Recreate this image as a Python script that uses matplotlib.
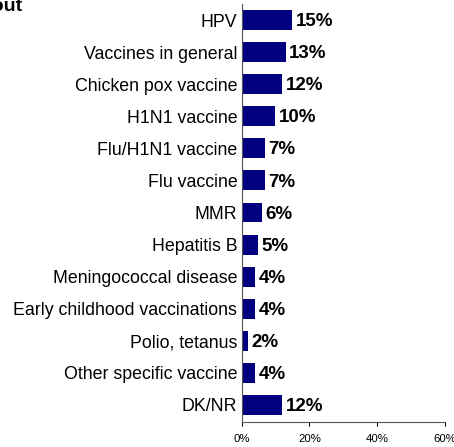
import matplotlib.pyplot as plt

categories = ["HPV", "Vaccines in general", "Chicken pox vaccine", "H1N1 vaccine",
              "Flu/H1N1 vaccine", "Flu vaccine", "MMR", "Hepatitis B",
              "Meningococcal disease", "Early childhood vaccinations",
              "Polio, tetanus", "Other specific vaccine", "DK/NR"]
values = [15, 13, 12, 10, 7, 7, 6, 5, 4, 4, 2, 4, 12]
ticks = [0, 20, 40, 60]

plt.rcParams['font.family'] = ['Liberation Sans', 'DejaVu Sans']

fig = plt.figure(figsize=(4.54, 4.47), dpi=100)
ax = fig.add_axes([0.532, 0.056, 0.448, 0.935])

y = list(range(len(categories)))
ax.barh(y, values, height=0.62, color='#000080')
for yi, v in zip(y, values):
    ax.text(v + 1.0, yi + 0.05, f"{v}%", va='center', ha='left',
            fontsize=13.5, fontweight='bold', color='black')

ax.set_ylim(12.53, -0.5)
ax.set_xlim(0, 60)
ax.set_yticks(y)
ax.set_yticklabels(categories, fontsize=12.8)
ax.tick_params(axis='y', length=0, pad=3)
ax.set_xticks(ticks)
ax.set_xticklabels([f"{t}%" for t in ticks], fontsize=8.2)
ax.tick_params(axis='x', direction='out', length=3, width=0.8, pad=6)

for s in ['top', 'right']:
    ax.spines[s].set_visible(False)
ax.spines['left'].set_color('#555555')
ax.spines['bottom'].set_color('#555555')

fig.text(22 / 454, 1 - 11 / 447, "about", ha='right', va='baseline',
         fontsize=14, fontweight='bold')

fig.savefig("out.png", dpi=100)
